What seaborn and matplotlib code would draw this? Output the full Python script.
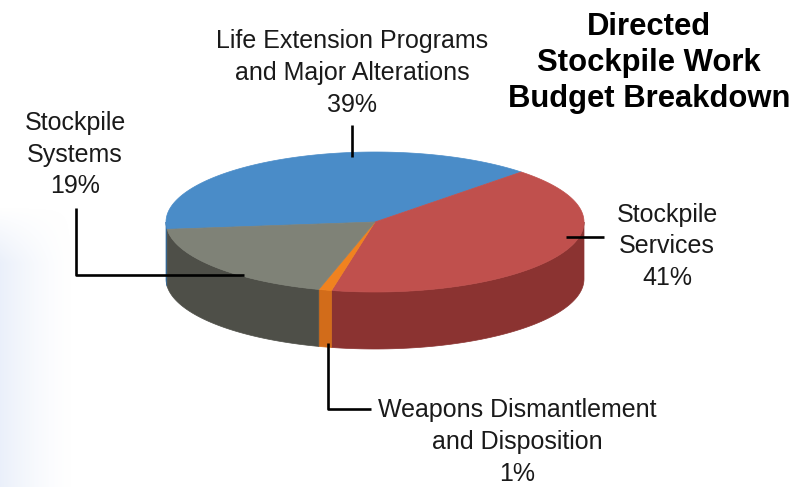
import numpy as np
import matplotlib
matplotlib.use("Agg")
import matplotlib.pyplot as plt
import seaborn as sns
from matplotlib.patches import Polygon

# ---- data ----
categories = ["Life Extension Programs\nand Major Alterations",
              "Stockpile\nServices",
              "Weapons Dismantlement\nand Disposition",
              "Stockpile\nSystems"]
values = [39, 41, 1, 19]
title_lines = ["Directed", "Stockpile Work", "Budget Breakdown"]

# ---- style ----
top_colors = ["#4a8cc8", "#c0504d", "#f0821f", "#7f8277"]
side_colors = ["#2f6aa0", "#8b3331", "#d26c1a", "#4e4f48"]

sns.set_theme(style="white")
plt.rcParams["font.family"] = ["Liberation Sans", "DejaVu Sans"]

fig = plt.figure(figsize=(8.12, 4.87), dpi=100)
fig.patch.set_facecolor("white")
ax = fig.add_axes([0, 0, 1, 1])
ax.set_xlim(0, 812)
ax.set_ylim(487, 0)
ax.set_axis_off()

# subtle light-blue gradient at left edge
h, w = 280, 75
gx = np.linspace(1, 0, w) ** 1.5
gy = np.clip(np.linspace(0, 1, h) * 5, 0, 1)[:, None]
alpha = gy * gx[None, :] * 0.45
img = np.zeros((h, w, 4))
img[..., 0] = 0.82
img[..., 1] = 0.87
img[..., 2] = 0.96
img[..., 3] = alpha
ax.imshow(img, extent=[0, w, 487, 487 - h], aspect="auto", zorder=0, interpolation="bilinear")

# ---- 3D pie geometry ----
cx, cy, ra, rb, depth = 375, 222, 209, 70, 57
start = 186.0
bounds = start - np.concatenate([[0], np.cumsum(values)]) / sum(values) * 360.0

def pt(t):
    r = np.radians(t)
    return cx + ra * np.cos(r), cy - rb * np.sin(r)

# sides (front half)
for i in range(len(values)):
    t0, t1 = bounds[i + 1], bounds[i]
    for shift in (0, -360, 360):
        a0, a1 = t0 + shift, t1 + shift
        lo, hi = max(a0, -180), min(a1, 0)
        if hi > lo:
            ts = np.linspace(lo, hi, 80)
            xs, ys = pt(ts)
            poly = np.column_stack([np.concatenate([xs, xs[::-1]]),
                                    np.concatenate([ys, ys[::-1] + depth])])
            ax.add_patch(Polygon(poly, closed=True, facecolor=side_colors[i],
                                 edgecolor=side_colors[i], lw=0.5, zorder=2))

# top faces
for i in range(len(values)):
    ts = np.linspace(bounds[i], bounds[i + 1], 200)
    xs, ys = pt(ts)
    poly = np.column_stack([np.concatenate([[cx], xs]), np.concatenate([[cy], ys])])
    ax.add_patch(Polygon(poly, closed=True, facecolor=top_colors[i],
                         edgecolor=top_colors[i], lw=0.5, zorder=3))

# ---- leader lines ----
lk = dict(color="black", lw=1.9, solid_capstyle="butt", zorder=4)
ax.plot([352, 352], [125, 157], **lk)
ax.plot([76, 76, 244], [208, 275, 275], **lk)
ax.plot([566, 604], [237, 237], **lk)
ax.plot([328, 328, 371], [343, 409, 409], **lk)

# ---- labels ----
label_pos = [(352, [48, 80, 112]), (667, [222, 253, 285]),
             (517, [417, 449, 481]), (75, [130, 162, 193])]
for (x, ys), cat, v in zip(label_pos, categories, values):
    lines = cat.split("\n") + [f"{v}%"]
    for y, s in zip(ys, lines):
        ax.text(x, y, s, ha="center", va="baseline", fontsize=18,
                color="#1a1a1a", zorder=5)

for y, s in zip([35, 71, 107], title_lines):
    ax.text(649, y, s, ha="center", va="baseline", fontsize=22.3,
            fontweight="bold", color="black", zorder=5)

fig.savefig("out.png", dpi=100, facecolor="white")
